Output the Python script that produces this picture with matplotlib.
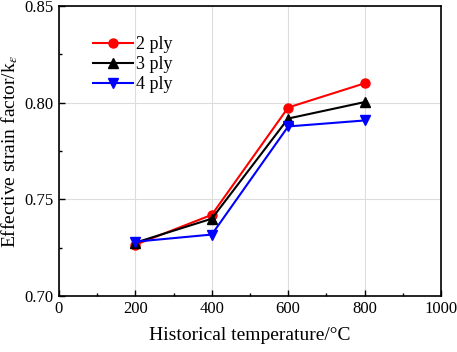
import matplotlib
matplotlib.use("Agg")
import matplotlib.pyplot as plt
from matplotlib.ticker import MultipleLocator, FormatStrFormatter

plt.rcParams['font.family'] = ['Liberation Serif', 'DejaVu Serif']
plt.rcParams['mathtext.fontset'] = 'stix'

temps = [200, 400, 600, 800]
ply2 = [0.7265, 0.742, 0.7975, 0.810]
ply3 = [0.7276, 0.740, 0.7918, 0.8003]
ply4 = [0.7281, 0.7318, 0.7877, 0.7908]
labels = ['2 ply', '3 ply', '4 ply']

fig = plt.figure(figsize=(4.57, 3.52), dpi=100)
ax = fig.add_axes([0.129, 0.159, 0.836, 0.824])

ax.plot(temps, ply2, color='#ff0000', marker='o', ms=6.5, lw=1.5, label=labels[0])
ax.plot(temps, ply3, color='black', marker='^', ms=6.5, lw=1.5, label=labels[1])
ax.plot(temps, ply4, color='#0000ff', marker='v', ms=6.5, lw=1.5, label=labels[2])

ax.set_xlim(0, 1000)
ax.set_ylim(0.70, 0.85)
ax.xaxis.set_major_locator(MultipleLocator(200))
ax.xaxis.set_minor_locator(MultipleLocator(100))
ax.yaxis.set_major_locator(MultipleLocator(0.05))
ax.yaxis.set_minor_locator(MultipleLocator(0.025))
ax.yaxis.set_major_formatter(FormatStrFormatter('%.2f'))
ax.tick_params(which='both', direction='in', labelsize=12)
ax.tick_params(which='major', length=4, width=1)
ax.tick_params(which='minor', length=2.5, width=1)
ax.tick_params(axis='y', pad=4)
ax.grid(True, which='major', color='#dddddd', lw=0.8)
ax.set_axisbelow(True)
for s in ax.spines.values():
    s.set_linewidth(1.2)

ax.set_xlabel('Historical temperature/\u00b0C', fontsize=14, labelpad=7)
ax.set_ylabel('Effective strain factor/k$_{\\varepsilon}$', fontsize=14, labelpad=3)
ax.legend(loc='upper left', bbox_to_anchor=(0.07, 0.92), frameon=False, fontsize=13,
          handlelength=2.2, handletextpad=0.2, labelspacing=0.15, borderaxespad=0)

fig.savefig('out.png', dpi=100)
